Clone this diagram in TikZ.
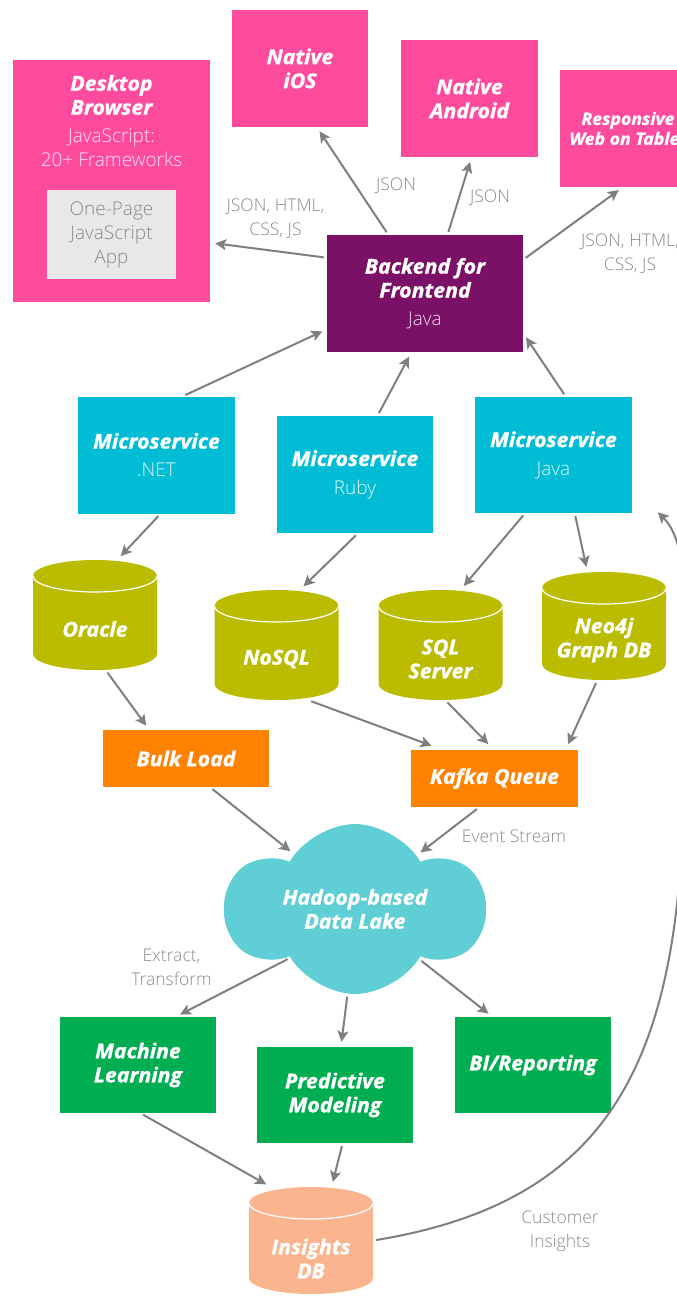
\documentclass[tikz,border=0pt]{standalone}
\usepackage{fontspec}
\setmainfont{Open Sans}
\usetikzlibrary{arrows.meta, shapes.geometric, shapes.symbols}

\newfontfamily\ttlbase{Open Sans}[BoldItalicFeatures={FakeBold=1.2, FakeStretch=1.04}]
\newcommand{\ttlfont}{\ttlbase\bfseries\itshape}
\IfFontExistsTF{Open Sans Light}
    {\newfontfamily\lightfont{Open Sans Light}}
    {\newfontfamily\lightfont{Open Sans}}

\definecolor{pinkbox}{HTML}{FF4B9E}
\definecolor{bffpurple}{HTML}{7A1167}
\definecolor{mscyan}{HTML}{00BCD4}
\definecolor{dbolive}{HTML}{BBBC00}
\definecolor{qorange}{HTML}{FF8200}
\definecolor{lakecyan}{HTML}{5FCED5}
\definecolor{outgreen}{HTML}{00AD50}
\definecolor{peach}{HTML}{FBB58E}
\definecolor{arrowgray}{HTML}{7F7F7F}
\definecolor{labelgray}{HTML}{8A8A8A}
\definecolor{innergray}{HTML}{E8E8E8}
\definecolor{innertext}{HTML}{8C8C8C}
\definecolor{subpink}{HTML}{FFE4F0}
\definecolor{subcyan}{HTML}{E3F7FA}
\definecolor{subpurple}{HTML}{EEDDEA}

\newcommand{\subline}[2]{{\lightfont\mdseries\upshape\fontsize{19}{24}\selectfont\color{#1}#2}}

\begin{document}
\begin{tikzpicture}[
    % GLOBAL CFG
    x=1pt, y=-1pt,
    font=\fontsize{20.5}{24}\selectfont\ttlfont,
    >={Stealth[length=11pt, width=11pt, inset=2.5pt]},
    % Styles
    box/.style={% For the coloured boxes
        rectangle,
        fill=#1,
        text=white,
        align=center,
        inner sep=0pt,
        },
    db/.style={% For the databases, drawn as cylinders
        rectangle,
        inner sep=0pt,
        minimum width=124pt,
        minimum height=110pt,
        path picture={
            \fill [#1] ([yshift=-16pt]path picture bounding box.north west)
                -- ([yshift=16pt]path picture bounding box.south west)
                arc [start angle=180, end angle=360, x radius=62pt, y radius=16pt]
                -- ([yshift=-16pt]path picture bounding box.north east)
                arc [start angle=0, end angle=180, x radius=62pt, y radius=16pt]
                -- cycle;
            \draw [white, line width=1.2pt] ([yshift=-16pt]path picture bounding box.north west)
                arc [start angle=180, end angle=360, x radius=62pt, y radius=16pt];
            },
        },
    dbtext/.style={% Text inside a cylinder
        text=white,
        align=center,
        yshift=-14pt,
        },
    elabel/.style={% Labels next to the arrows
        font=\lightfont\fontsize{17.5}{24}\selectfont,
        text=labelgray,
        align=center,
        },
    link/.style={% Arrows
        ->,
        draw=arrowgray,
        line width=2pt,
        shorten <=3pt,
        shorten >=5pt,
        },
    ]

\useasboundingbox (0,0) rectangle (677,1296);

% Clients on top named desk, ios, andr, tab
    \node [box=pinkbox, minimum width=197pt, minimum height=242pt] (desk) at (111.5,181) {};
    \node [text=white, align=center] (desktxt) at (111.5,121)
        {Desktop\\Browser\\[4pt]\subline{subpink}{JavaScript:}\\\subline{subpink}{20+ Frameworks}};
    \node [box=innergray, minimum width=129pt, minimum height=89pt] (onepage) at (111.5,234.5)
        {\subline{innertext}{One-Page}\\\subline{innertext}{JavaScript}\\\subline{innertext}{App}};
    \node [box=pinkbox, minimum width=136pt, minimum height=117pt] (ios) at (300,68.5) {Native\\iOS};
    \node [box=pinkbox, minimum width=137pt, minimum height=117pt] (andr) at (469.5,98.5) {Native\\Android};
    \node [box=pinkbox, minimum width=137pt, minimum height=117pt,
        font=\fontsize{17}{20}\selectfont\ttlfont] (tab) at (628,128.5) {Responsive\\Web on Tablet};

% Backend for frontend
    \node [box=bffpurple, minimum width=196pt, minimum height=117pt] (bff) at (425,293.5)
        {Backend for\\Frontend\\[4pt]\subline{subpurple}{Java}};

% Microservices named ms#
    \node [box=mscyan, minimum width=157pt, minimum height=117pt] (ms1) at (156.5,455)
        {Microservice\\[4pt]\subline{subcyan}{.NET}};
    \node [box=mscyan, minimum width=156pt, minimum height=117pt] (ms2) at (355,474.5)
        {Microservice\\[4pt]\subline{subcyan}{Ruby}};
    \node [box=mscyan, minimum width=157pt, minimum height=116pt] (ms3) at (553.5,455)
        {Microservice\\[4pt]\subline{subcyan}{Java}};

% Databases named db#
    \node [db=dbolive, label={[dbtext]center:Oracle}] (db1) at (95,615) {};
    \node [db=dbolive, label={[dbtext]center:NoSQL}] (db2) at (276.5,645) {};
    \node [db=dbolive, label={[dbtext]center:SQL\\Server}] (db3) at (440.5,645) {};
    \node [db=dbolive, minimum height=108pt, label={[dbtext]center:Neo4j\\Graph DB}] (db4) at (604,626) {};

% Loading
    \node [box=qorange, minimum width=166pt, minimum height=57pt] (bulk) at (186,758.5) {Bulk Load};
    \node [box=qorange, minimum width=167pt, minimum height=57pt] (kafka) at (494.5,778.5) {Kafka Queue};

% Data lake
    \node [cloud, cloud puffs=6, cloud puff arc=120, aspect=1.6, fill=lakecyan, text=white,
        align=center, minimum width=258pt, minimum height=164pt, inner sep=0pt] (lake) at (355,909)
        {Hadoop-based\\Data Lake};

% Outputs named out#
    \node [box=outgreen, minimum width=156pt, minimum height=96pt] (out1) at (138,1065) {Machine\\Learning};
    \node [box=outgreen, minimum width=156pt, minimum height=96pt] (out2) at (335,1095) {Predictive\\Modeling};
    \node [box=outgreen, minimum width=156pt, minimum height=96pt] (out3) at (533,1065) {BI/Reporting};
    \node [db=peach, minimum height=107pt, label={[dbtext, yshift=-4pt]center:Insights\\DB}] (insight) at (311,1240.5) {};

% Arrow labels
    \node [elabel] (lbl1) at (275.5,219) {JSON, HTML,\\CSS, JS};
    \node [elabel] (lbl2) at (396,186) {JSON};
    \node [elabel] (lbl3) at (490,198) {JSON};
    \node [elabel] (lbl4) at (630,254) {JSON, HTML,\\CSS, JS};
    \node [elabel] (lbl5) at (514,836) {Event Stream};
    \node [elabel] (lbl6) at (171.5,967) {Extract,\\Transform};
    \node [elabel] (lbl7) at (560,1231) {Customer\\Insights};

% Start connecting all.
    % Backend to the clients
    \draw [link] (bff.160.5) -- (desk.-32);
    \draw [link] (bff.122.3) -- (ios.-74.4);
    \draw [link] (bff.69.2) -- (andr.-88);
    \draw [link] (bff.19.5) -- (tab.-95.4);

    % Microservices to backend
    \draw [link] (ms1.66.2) -- (bff.-160.5);
    \draw [link] (ms2.69.2) -- (bff.-103.7);
    \draw [link] (ms3.78.2) -- (bff.-22.4);

    % Microservices to databases
    \draw [link] (ms1.-86.8) -- (db1.68.4);
    \draw [link] (ms2.-87.3) -- (db2.67);
    \draw [link] (ms3.-116.2) -- (db3.70.3);
    \draw [link] (ms3.-70.9) -- (db4.107.6);

    % Databases to loading
    \draw [link] (db1.-79) -- (bulk.142.1);
    \draw [link, shorten >=12pt] (db2.-60.2) -- (kafka.151.2);
    \draw [link, shorten >=8pt] (db3.-85.3) -- (kafka.91);
    \draw [link, shorten >=6pt] (db4.-97.3) -- (kafka.22.7);

    % Into and out of the lake
    \draw [link] (bulk.-50.5) -- (lake.138.7);
    \draw [link] (kafka.-118.4) -- (lake.41);
    \draw [link] (lake.-143) -- (out1.52.6);
    \draw [link] (lake.-95) -- (out2.83.7);
    \draw [link] (lake.-38) -- (out3.130.7);

    % Insights
    \draw [link] (out1.-87.8) -- (insight.127.9);
    \draw [link] (out2.-81) -- (insight.69.2);
    \draw [link] (insight.east) .. controls (620,1200) and (684,1050) .. (684,760)
        .. controls (684,640) and (694,548) .. ([xshift=22pt, yshift=4.5pt]ms3.south east);

\end{tikzpicture}
\end{document}
